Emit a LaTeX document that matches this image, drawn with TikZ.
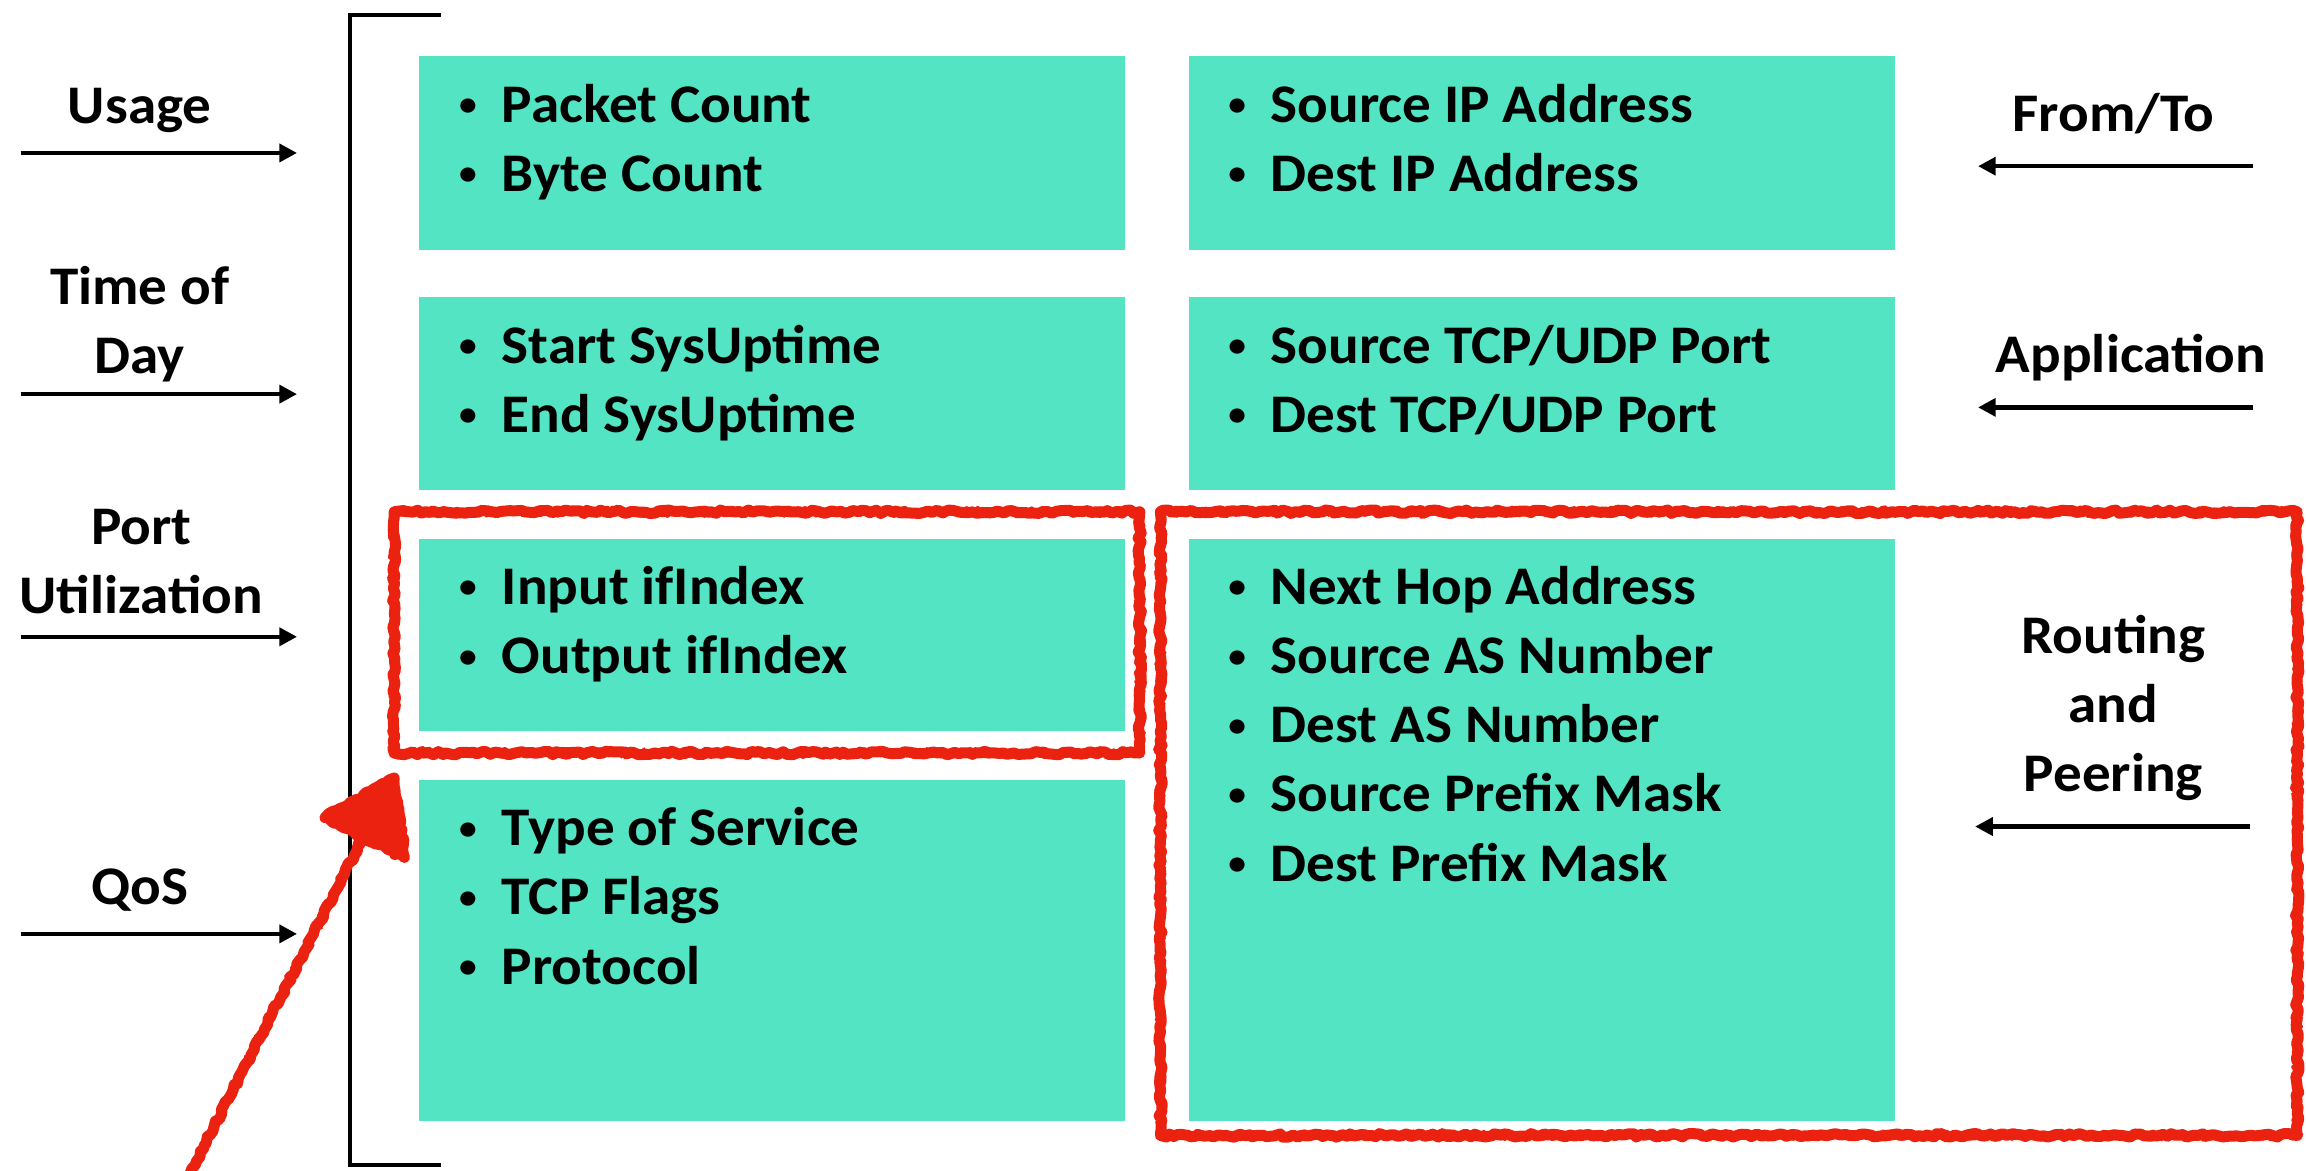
\documentclass[tikz,border=0pt]{standalone}
\usepackage{fontspec}
\setmainfont{Carlito}[FakeStretch=1.05]
\usetikzlibrary{arrows.meta,decorations.pathmorphing}
\definecolor{tealbox}{RGB}{83,229,195}
\definecolor{marker}{RGB}{236,34,16}
\newcommand{\itm}{\strut\makebox[30pt][l]{\hspace{1pt}\raisebox{4.5pt}{\scalebox{0.62}{\textbullet}}}}
\tikzset{
  tbox/.style={fill=tealbox, draw=none, inner sep=0pt, anchor=north west},
  items/.style={inner sep=0pt, anchor=north west, align=left,
    font=\fontsize{37}{47}\selectfont\bfseries},
  lbl/.style={inner sep=0pt, anchor=north, align=center,
    font=\fontsize{37}{47}\selectfont\bfseries},
  arr/.style={line width=3pt, -{Triangle[length=12pt,width=12pt]}},
  brk/.style={line width=3pt},
  redmark/.style={draw=marker, line width=7.5pt, line join=round, line cap=round,
    decorate, decoration={random steps, segment length=3pt, amplitude=1.2pt}},
  redrough/.style={draw=marker, line width=2.5pt, line join=round,
    decorate, decoration={random steps, segment length=2pt, amplitude=3pt}},
}
\begin{document}
\begin{tikzpicture}[x=1pt,y=-1pt]
\pgfmathsetseed{11}
\useasboundingbox (0,0) rectangle (1568,796);

% grouping bracket
\coordinate (bt) at (300,10);
\coordinate (bb) at (300,792);
\draw[brk] (bt) -- (238,10) -- (238,792) -- (bb);

% field boxes
\node[tbox, minimum width=480, minimum height=132] (usage) at (285,38) {};
\node[tbox, minimum width=480, minimum height=131] (time) at (285,202) {};
\node[tbox, minimum width=480, minimum height=131] (port) at (285,366) {};
\node[tbox, minimum width=480, minimum height=232] (qos) at (285,530) {};
\node[tbox, minimum width=480, minimum height=132] (addr) at (808,38) {};
\node[tbox, minimum width=480, minimum height=131] (app) at (808,202) {};
\node[tbox, minimum width=480, minimum height=396] (route) at (808,366) {};

\node[items] (usaget) at ([xshift=26pt,yshift=-12pt]usage.north west)
  {\itm Packet Count\\\itm Byte Count};
\node[items] (timet) at ([xshift=26pt,yshift=-12pt]time.north west)
  {\itm Start SysUptime\\\itm End SysUptime};
\node[items] (portt) at ([xshift=26pt,yshift=-12pt]port.north west)
  {\itm Input ifIndex\\\itm Output ifIndex};
\node[items] (qost) at ([xshift=26pt,yshift=-12pt]qos.north west)
  {\itm Type of Service\\\itm TCP Flags\\\itm Protocol};
\node[items] (addrt) at ([xshift=26pt,yshift=-12pt]addr.north west)
  {\itm Source IP Address\\\itm Dest IP Address};
\node[items] (appt) at ([xshift=26pt,yshift=-12pt]app.north west)
  {\itm Source TCP/UDP Port\\\itm Dest TCP/UDP Port};
\node[items] (routet) at ([xshift=26pt,yshift=-12pt]route.north west)
  {\itm Next Hop Address\\\itm Source AS Number\\\itm Dest AS Number\\\itm Source Prefix Mask\\\itm Dest Prefix Mask};

% left-hand categories
\node[lbl] (lusage) at (95,51) {\strut Usage};
\node[lbl] (ltime) at (95,174) {\strut Time of\\\strut Day};
\node[lbl] (lport) at (96,337) {\strut Port\\\strut Utilization};
\node[lbl] (lqos) at (95,582) {\strut QoS};
\coordinate (a1s) at (14,104);  \coordinate (a1e) at (202,104);
\coordinate (a2s) at (14,268);  \coordinate (a2e) at (202,268);
\coordinate (a3s) at (14,433);  \coordinate (a3e) at (202,433);
\coordinate (a4s) at (14,635);  \coordinate (a4e) at (202,635);
\draw[arr] (a1s) -- (a1e);
\draw[arr] (a2s) -- (a2e);
\draw[arr] (a3s) -- (a3e);
\draw[arr] (a4s) -- (a4e);

% right-hand categories
\node[lbl] (rfrom) at (1437,56) {\strut From/To};
\node[lbl] (rapp) at (1449,220) {\strut Application};
\node[lbl] (rroute) at (1437,411) {\strut Routing\\\strut and\\\strut Peering};
\coordinate (b1s) at (1532,113); \coordinate (b1e) at (1345,113);
\coordinate (b2s) at (1532,277); \coordinate (b2e) at (1345,277);
\coordinate (b3s) at (1530,562); \coordinate (b3e) at (1343,562);
\draw[arr] (b1s) -- (b1e);
\draw[arr] (b2s) -- (b2e);
\draw[arr] (b3s) -- (b3e);

% hand-drawn highlights
\draw[redmark] (268,348) rectangle (775,512);
\draw[redrough] (268,348) rectangle (775,512);
\draw[redmark] (789,348) rectangle (1562,772);
\draw[redrough] (789,348) rectangle (1562,772);

% hand-drawn pointer
\coordinate (ptail) at (128,800);
\coordinate (pneck) at (250,563);
\coordinate (ptip) at (268,529);
\coordinate (pl) at (221,556);
\coordinate (pr) at (275,583);
\draw[redmark] (ptail) -- (pneck);
\draw[redrough] (ptail) -- (pneck);
\filldraw[redmark, fill=marker] (ptip) -- (pl) -- (pr) -- cycle;
\end{tikzpicture}
\end{document}
